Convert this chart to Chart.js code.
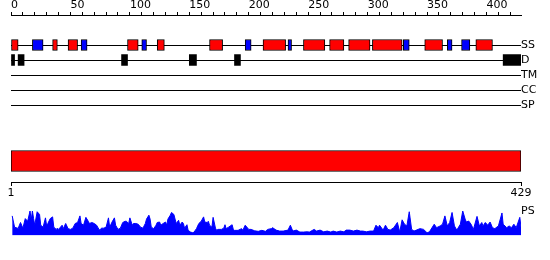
<!DOCTYPE html>
<html>
<head>
<meta charset="utf-8">
<script src="https://cdn.jsdelivr.net/npm/chart.js@4/dist/chart.umd.min.js"></script>
<style>
  body { margin: 0; background: #fff; }
  .wrap { position: relative; width: 550px; height: 260px; }
  canvas { position: absolute; left: 0; }
</style>
</head>
<body>
<div class="wrap">
  <canvas id="tracks" width="550" height="120" style="top:0"></canvas>
  <canvas id="seq" width="550" height="62" style="top:140px"></canvas>
  <canvas id="ps" width="550" height="60" style="top:200px"></canvas>
</div>
<script>
"use strict";

const seqLength = 429;
const trackNames = ['SS', 'D', 'TM', 'CC', 'SP'];

// secondary structure: helices (red) and strands (blue)
const helixSegs = [[0, 6], [35, 39], [48, 56], [98, 107], [123, 129], [167, 178], [212, 231],
  [246, 264], [268, 280], [284, 302], [304, 329], [348, 363], [391, 405]];
const strandSegs = [[18, 27], [59, 64], [110, 114], [197, 202], [233, 236], [330, 335],
  [367, 371], [379, 386]];
// disordered regions
const disoSegs = [[0, 3], [6, 11], [93, 98], [150, 156], [188, 193], [414, 429]];

const seqTicks = [1, 429];

// PS profile, residue / score
const psPos = [1, 3, 6, 8, 10, 12, 14, 16, 17, 18, 19, 20, 22, 24, 25, 27, 29, 30, 31, 33,
  35, 36, 38, 39, 40, 43, 44, 46, 48, 50, 52, 54, 56, 58, 59, 61, 63, 65, 66, 68,
  70, 72, 74, 75, 76, 78, 80, 82, 83, 85, 87, 88, 90, 92, 94, 96, 97, 99, 100, 102,
  103, 105, 107, 109, 111, 113, 114, 116, 117, 118, 120, 122, 123, 125, 126, 128, 130, 131, 132, 134,
  135, 137, 138, 139, 141, 142, 144, 145, 146, 148, 149, 151, 153, 154, 156, 158, 160, 162, 163, 165,
  166, 167, 169, 170, 172, 173, 174, 177, 179, 180, 181, 183, 186, 187, 188, 191, 194, 195, 197, 200,
  202, 205, 208, 211, 214, 216, 219, 220, 223, 226, 229, 233, 235, 237, 240, 243, 246, 249, 251, 255,
  257, 260, 263, 266, 269, 271, 274, 277, 280, 282, 285, 288, 291, 294, 296, 299, 302, 305, 307, 309,
  310, 313, 315, 317, 319, 322, 325, 327, 329, 331, 333, 335, 337, 339, 341, 344, 347, 350, 352, 356,
  358, 361, 363, 365, 367, 369, 371, 373, 375, 378, 380, 382, 383, 385, 387, 389, 392, 394, 396, 397,
  399, 401, 403, 405, 407, 410, 413, 414, 417, 419, 421, 423, 425, 428, 429];
const psVal = [.80, .34, .29, .53, .30, .69, .58, 1.0, .64, 1.0, .69, .42, .97, .86, .42, .34, .72, .39, .49, .69,
  .76, .34, .25, .30, .25, .42, .28, .49, .28, .25, .30, .49, .53, .80, .49, .42, .74, .58, .49, .53,
  .49, .42, .25, .21, .30, .30, .34, .72, .34, .55, .72, .42, .25, .30, .53, .58, .58, .49, .72, .42,
  .49, .49, .46, .34, .30, .49, .67, .83, .67, .34, .28, .42, .53, .55, .42, .49, .55, .42, .67, .83,
  .94, .86, .67, .49, .62, .42, .55, .49, .30, .44, .21, .14, .11, .14, .28, .49, .58, .76, .55, .53,
  .58, .42, .34, .74, .30, .21, .25, .25, .30, .44, .28, .34, .44, .25, .21, .21, .28, .21, .42, .25,
  .25, .19, .17, .21, .17, .25, .28, .32, .22, .18, .18, .22, .42, .18, .22, .14, .14, .15, .14, .25,
  .18, .22, .15, .18, .14, .18, .14, .18, .15, .22, .22, .18, .22, .18, .18, .15, .18, .18, .42, .32,
  .42, .22, .42, .25, .22, .32, .53, .14, .64, .46, .39, .97, .25, .18, .22, .28, .25, .11, .15, .46,
  .32, .39, .46, .80, .39, .53, .94, .39, .22, .46, 1.0, .67, .55, .59, .46, .25, .78, .39, .53, .39,
  .53, .42, .55, .32, .28, .39, .92, .46, .32, .39, .32, .46, .32, .74, .34];

Chart.defaults.font.family = 'DejaVu Sans';
Chart.defaults.font.size = 11;
Chart.defaults.color = '#000';
Chart.defaults.animation = false;
Chart.defaults.plugins.legend.display = false;
Chart.defaults.plugins.tooltip.enabled = false;

const rowOf = name => trackNames.indexOf(name);

new Chart(document.getElementById('tracks'), {
  type: 'bar',
  data: {
    datasets: [
      {
        data: helixSegs.map(s => ({ x: s, y: rowOf('SS') })),
        backgroundColor: '#ff0000', borderColor: '#000', borderWidth: 1
      },
      {
        data: strandSegs.map(s => ({ x: s, y: rowOf('SS') })),
        backgroundColor: '#0000ff', borderColor: '#000', borderWidth: 1
      },
      {
        data: disoSegs.map(s => ({ x: s, y: rowOf('D') })),
        backgroundColor: '#000', borderWidth: 0
      }
    ]
  },
  options: {
    responsive: false,
    devicePixelRatio: 1,
    indexAxis: 'y',
    layout: { padding: { left: 11, right: 0, top: 0, bottom: 7.5 } },
    datasets: { bar: { grouped: false, barThickness: 11, borderSkipped: false } },
    scales: {
      x: {
        type: 'linear', position: 'top', min: 0, max: seqLength,
        afterFit: scale => { scale.height = 15; },
        ticks: {
          stepSize: 10, autoSkip: false, maxRotation: 0, includeBounds: false,
          align: 'start', padding: 0,
          callback: v => v % 50 === 0 ? String(v) : ''
        },
        grid: { drawOnChartArea: false, tickLength: 3, color: '#000' },
        border: { display: true, color: '#000' }
      },
      y: {
        type: 'linear', position: 'right', min: -2, max: 4.5, reverse: true, offset: false,
        afterFit: scale => { scale.width = 29; },
        ticks: {
          stepSize: 1, includeBounds: false, autoSkip: false, padding: 0,
          callback: v => trackNames[v] || ''
        },
        grid: {
          offset: false, drawTicks: false,
          color: c => (c.tick && trackNames[c.tick.value]) ? '#000' : 'rgba(0,0,0,0)'
        },
        border: { display: false }
      }
    }
  }
});

new Chart(document.getElementById('seq'), {
  type: 'bar',
  data: {
    labels: ['seq'],
    datasets: [{
      data: [[1, seqLength]],
      backgroundColor: '#ff0000', borderColor: '#000', borderWidth: 1,
      borderSkipped: false, barThickness: 21
    }]
  },
  options: {
    responsive: false,
    devicePixelRatio: 1,
    indexAxis: 'y',
    layout: { padding: { left: 11, right: 29, top: 0, bottom: 0 } },
    scales: {
      x: {
        type: 'linear', min: 1, max: seqLength,
        afterBuildTicks: scale => { scale.ticks = seqTicks.map(v => ({ value: v })); },
        afterFit: scale => { scale.height = 20; },
        ticks: { autoSkip: false, maxRotation: 0, padding: 1 },
        grid: { drawOnChartArea: false, tickLength: 4, color: '#000' },
        border: { display: true, color: '#000' }
      },
      y: { display: false }
    }
  }
});

new Chart(document.getElementById('ps'), {
  type: 'line',
  data: {
    datasets: [{
      data: psPos.map((p, i) => ({ x: p, y: psVal[i] })),
      borderColor: '#0000ff', backgroundColor: '#0000ff', borderWidth: 1,
      fill: 'origin', pointRadius: 0, tension: 0
    }]
  },
  options: {
    responsive: false,
    devicePixelRatio: 1,
    layout: { padding: { left: 11, right: 0, top: 11, bottom: 24.5 } },
    scales: {
      x: { type: 'linear', min: 0, max: seqLength, display: false },
      y: {
        position: 'right', min: 0, max: 1,
        afterFit: scale => { scale.width = 29; },
        ticks: { stepSize: 1, padding: 0, callback: v => v === 1 ? 'PS' : '' },
        grid: { display: false, drawTicks: false },
        border: { display: false }
      }
    }
  }
});
</script>
</body>
</html>
